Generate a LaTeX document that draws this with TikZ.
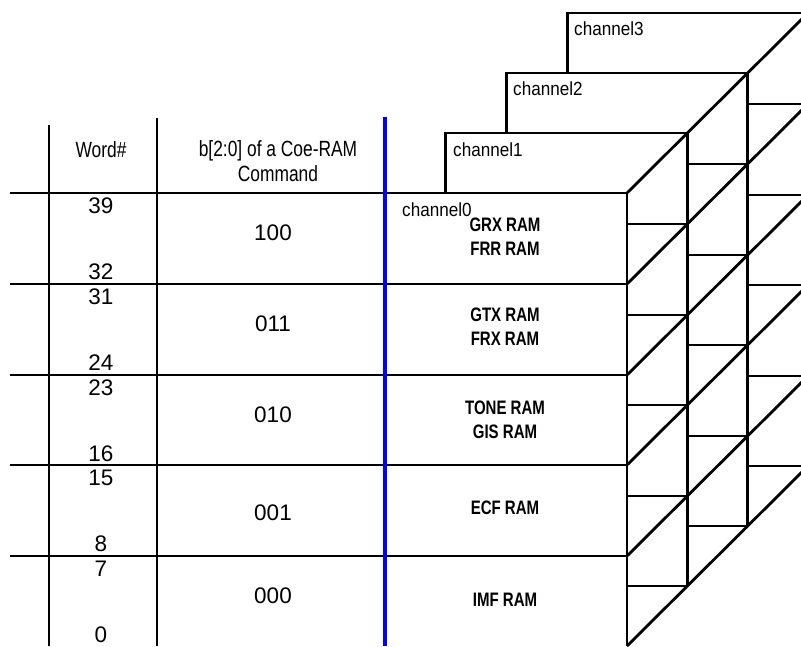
\documentclass[tikz,border=0pt]{standalone}
\usepackage{fontspec}
\setmainfont{Liberation Sans}
\newcommand{\squeeze}[2]{\scalebox{#1}[1]{\begin{tabular}{@{}c@{}}#2\end{tabular}}}

\begin{document}
\begin{tikzpicture}[x=1pt, y=-1pt,
  every node/.style={inner sep=0pt},
  rule/.style={line width=2.8pt},
  thinrule/.style={line width=1.8pt},
  head/.style={font=\fontsize{22}{25}\selectfont},
  num/.style={font=\fontsize{22.5}{25}\selectfont},
  ram/.style={font=\bfseries\fontsize{19.5}{24}\selectfont},
  chan/.style={anchor=west, font=\fontsize{19}{21}\selectfont}
]
\clip (0,0) rectangle (801,646);

% word / command table
\draw[thinrule] (49,125) -- (49,646);
\draw[thinrule] (157,118) -- (157,646);
\node[head] (word) at (101,152) {\squeeze{0.79}{Word\#}};
\node[head] (cmd) at (278,164) {\squeeze{0.79}{b[2:0] of a Coe-RAM\\Command}};

\foreach \y/\hi/\lo/\cy/\code/\ry/\ram in {
  193/39/32/233/100/239/{GRX RAM\\FRR RAM},
  284/31/24/324/011/329/{GTX RAM\\FRX RAM},
  375/23/16/415/010/422/{TONE RAM\\GIS RAM},
  465/15/8/513/001/510/{ECF RAM},
  556/7/0/596/000/602/{IMF RAM}
}{
  \draw[rule] (10,\y) -- (627,\y);
  \node[num] (hi\hi) at (101,\y+13) {\hi};
  \node[num] (lo\lo) at (101,\y+79) {\lo};
  \node[num] (code\code) at (273,\cy) {\code};
  \node[ram] (ram\hi) at (505,\ry) {\squeeze{0.77}{\ram}};
}

\draw[blue, line width=4pt] (385,117) -- (385,646);

% channel slabs behind channel0
\foreach \c in {1,2,3}{
  \pgfmathsetmacro\l{385+60.7*\c}
  \pgfmathsetmacro\r{627+60.3*\c}
  \pgfmathsetmacro\p{627+60.3*(\c-1)}
  \pgfmathsetmacro\t{193-60*\c}
  \draw[rule] (\l,\t+60) -- (\l,\t) -- (\r,\t);
  \foreach \y in {284,375,465,556,646}
    \draw[rule] (\p,\y-60*\c) -- (\r,\y-60*\c);
}
\foreach \c in {0,1,2,3}
  \draw[rule] (627+60.3*\c,193-60*\c) -- (627+60.3*\c,646-60*\c);
\foreach \y in {193,284,375,465,556,646}
  \draw[rule] (627,\y) -- (808,\y-180);

\foreach \c/\x/\y in {0/402/210,1/453/150,2/513/89,3/574/29}
  \node[chan] (chan\c) at (\x,\y) {\scalebox{0.9}[1]{channel\c}};
\end{tikzpicture}
\end{document}
